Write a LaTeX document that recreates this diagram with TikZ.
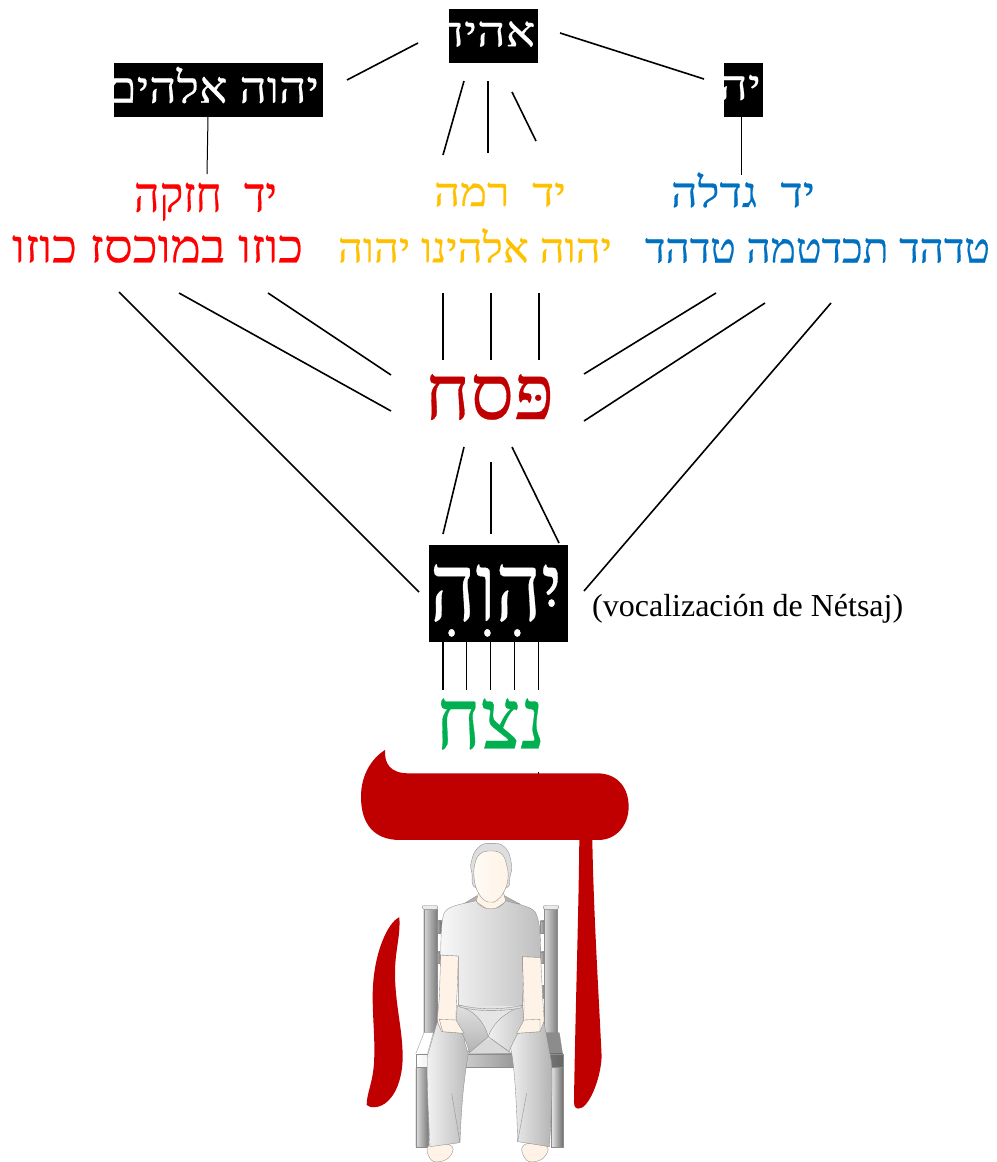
\documentclass[tikz,border=0pt]{standalone}
\usepackage{fontspec}
\usepackage{graphicx}
\setmainfont{Liberation Serif}
\newfontfamily\hebfont[Script=Hebrew,FakeBold=0.4]{Liberation Serif}
\TeXXeTstate=1
\definecolor{crimson}{HTML}{C00000}
\definecolor{hred}{HTML}{FF0000}
\definecolor{hyel}{HTML}{FFC000}
\definecolor{hblu}{HTML}{0070C0}
\definecolor{hgrn}{HTML}{00B050}
\definecolor{skin}{HTML}{FEF3E6}
\definecolor{outl}{HTML}{8C8C8C}
\tikzset{
  conn/.style={line width=1.6pt,black},
  conn2/.style={line width=1pt,black},
  blackbox/.style={fill=black,inner sep=0pt,outer sep=0pt},
  boxtext/.style={white,inner sep=0pt,font=\hebfont\fontsize{40}{40}\selectfont},
  htext/.style={inner sep=0pt,font=\hebfont\fontsize{40}{40}\selectfont},
  manline/.style={draw=outl,line width=0.35pt},
  post/.style={draw=outl,line width=0.3pt,left color=black!25,right color=black!60},
}
\begin{document}
\begin{tikzpicture}[x=1pt,y=-1pt]
\useasboundingbox (0,0) rectangle (996,1162);

% black boxes (text clipped by the box)
\node[blackbox,minimum width=89pt,minimum height=54pt,
  path picture={\node[boxtext] at ([xshift=-8pt,yshift=2pt]path picture bounding box.center) {\resizebox{100pt}{25pt}{\beginR אהיה\endR}};}] (ehyeh) at (493.5,36) {};
\node[blackbox,minimum width=209pt,minimum height=54pt,
  path picture={\node[boxtext] at ([xshift=-5.5pt,yshift=5pt]path picture bounding box.center) {\resizebox{212pt}{36pt}{\beginR יהוה אלהים\endR}};}] (elohim) at (218.5,90) {};
\node[blackbox,minimum width=39pt,minimum height=54pt,
  path picture={\node[boxtext] at ([xshift=-3.5pt,yshift=2.5pt]path picture bounding box.center) {\resizebox{42pt}{25pt}{\beginR יה\endR}};}] (yah) at (743.5,90) {};
\node[blackbox,minimum width=139pt,minimum height=97pt,
  path picture={\node[boxtext] at ([xshift=-2.5pt,yshift=-7pt]path picture bounding box.center) {\resizebox{132pt}{56pt}{\beginR יִהִוִהִ\endR}};}] (tetra) at (498.5,593.5) {};

% coloured texts
\node[htext,hred] (redA) at (205.5,201.8) {\resizebox{143pt}{29pt}{\beginR יד~~חזקה\endR}};
\node[htext,hred] (redB) at (157.5,249) {\resizebox{291pt}{27pt}{\beginR כוזו במוכסז כוזו\endR}};
\node[htext,hyel] (yelA) at (500,194.5) {\resizebox{132pt}{23.5pt}{\beginR יד~~רמה\endR}};
\node[htext,hyel] (yelB) at (475,245.5) {\resizebox{274pt}{34pt}{\beginR יהוה אלהינו יהוה\endR}};
\node[htext,hblu] (bluA) at (743,190) {\resizebox{144pt}{34.5pt}{\beginR יד~~גדלה\endR}};
\node[htext,hblu] (bluB) at (817.5,250.5) {\resizebox{345pt}{24.5pt}{\beginR טדהד תכדטמה טדהד\endR}};
\node[htext,crimson] (pesach) at (489.5,397) {\resizebox{129pt}{45pt}{\beginR פּסח\endR}};
\node[htext,hgrn] (netzach) at (490.5,724) {\resizebox{109pt}{50pt}{\beginR נצח\endR}};
\node[inner sep=0pt,anchor=west,font=\fontsize{32}{32}\selectfont] (voc) at (592,609) {(vocalización de Nétsaj)};

% connectors
\draw[conn] ([shift={(-75.5,7)}]ehyeh.center) -- ([shift={(128.5,-10)}]elohim.center);
\draw[conn] ([shift={(66.5,-3)}]ehyeh.center) -- ([shift={(-39.5,-11)}]yah.center);
\draw[conn] ([shift={(-29.5,45)}]ehyeh.center) -- ([shift={(-57,-39.5)}]yelA.center);
\draw[conn] ([shift={(-5.5,45)}]ehyeh.center) -- ([shift={(-12,-41.5)}]yelA.center);
\draw[conn] ([shift={(18.5,56)}]ehyeh.center) -- ([shift={(36,-53.5)}]yelA.center);
\draw[conn2] ([xshift=-10.5pt]elohim.south) -- ([shift={(1.5,-27.8)}]redA.center);
\draw[conn2] ([xshift=-2.5pt]yah.south) -- ([shift={(-2,-15)}]bluA.center);
\draw[conn] ([shift={(-38.5,43)}]redB.center) -- ([shift={(-79.5,-1.5)}]tetra.center);
\draw[conn] ([shift={(21.5,44)}]redB.center) -- ([shift={(-98.5,14)}]pesach.center);
\draw[conn] ([shift={(110.5,44)}]redB.center) -- ([shift={(-98.5,-22)}]pesach.center);
\draw[conn] ([shift={(-32,47.5)}]yelB.center) -- ([shift={(-46.5,-37)}]pesach.center);
\draw[conn] ([shift={(16,47.5)}]yelB.center) -- ([shift={(1.5,-37)}]pesach.center);
\draw[conn] ([shift={(64,47.5)}]yelB.center) -- ([shift={(49.5,-37)}]pesach.center);
\draw[conn] ([shift={(-101.5,42.5)}]bluB.center) -- ([shift={(94.5,-23)}]pesach.center);
\draw[conn] ([shift={(-52.5,52.5)}]bluB.center) -- ([shift={(94.5,24)}]pesach.center);
\draw[conn] ([shift={(13.5,52.5)}]bluB.center) -- ([shift={(85.5,-2.5)}]tetra.center);
\draw[conn] ([shift={(-25.5,50)}]pesach.center) -- ([shift={(-55.5,-59.5)}]tetra.center);
\draw[conn] ([shift={(1.5,65)}]pesach.center) -- ([shift={(-7.5,-59.5)}]tetra.center);
\draw[conn] ([shift={(22.5,50)}]pesach.center) -- ([shift={(60.5,-50.5)}]tetra.center);
\draw[conn] ([shift={(-55.8,48)}]tetra.center) -- ([shift={(-47.8,-34.5)}]netzach.center);
\draw[conn] ([shift={(-32.2,48)}]tetra.center) -- ([shift={(-24.2,-34.5)}]netzach.center);
\draw[conn] ([shift={(-8.2,48)}]tetra.center) -- ([shift={(-0.2,-34.5)}]netzach.center);
\draw[conn] ([shift={(15.8,48)}]tetra.center) -- ([shift={(23.8,-34.5)}]netzach.center);
\draw[conn] ([shift={(39.8,48)}]tetra.center) -- ([shift={(47.8,-34.5)}]netzach.center);

% giant letter he, drawn as a shape
\coordinate (tick) at (538,772);
\draw[conn2] (tick) -- ++(0,3);
\begin{scope}[shift={(350,530)},x=0.3333pt,y=-0.3333pt]
  \fill[crimson] (105,660) .. controls (103,700) and (120,730) .. (175,730) -- (745,730)
    .. controls (805,732) and (836,775) .. (836,830)
    .. controls (836,885) and (800,930) .. (745,930) -- (727,930)
    .. controls (731,1150) and (745,1370) .. (755,1580)
    .. controls (752,1650) and (715,1738) .. (685,1736)
    .. controls (674,1736) and (672,1725) .. (672,1715)
    .. controls (676,1450) and (686,1150) .. (688,930) -- (150,930)
    .. controls (70,930) and (33,880) .. (33,800)
    .. controls (33,735) and (65,685) .. (105,660) -- cycle;
  \fill[crimson] (148,1162) .. controls (115,1175) and (68,1270) .. (68,1400)
    .. controls (68,1470) and (76,1530) .. (72,1600)
    .. controls (68,1660) and (50,1690) .. (50,1725)
    .. controls (60,1736) and (90,1735) .. (112,1715)
    .. controls (145,1685) and (158,1630) .. (158,1580)
    .. controls (158,1500) and (135,1420) .. (135,1330)
    .. controls (135,1260) and (152,1220) .. (148,1162) -- cycle;
\end{scope}

% seated figure, in 3x coordinates of the crop
\begin{scope}[shift={(350,830)},x=0.3333pt,y=-0.3333pt]
  % chair back
  \foreach \xa/\xb in {258/275,570/588}{
    \path[post] (\xa,272) rectangle (\xb,308);
    \path[post] (\xa,365) rectangle (\xb,400);}
  \path[post] (570,468) rectangle (588,505);
  \path[draw=outl,line width=.3pt,left color=black!15,right color=black!50] (221,236) rectangle (260,610);
  \path[draw=outl,line width=.3pt,left color=black!15,right color=black!50] (583,236) rectangle (622,610);
  \path[draw=outl,line width=.3pt,fill=black!8,rounded corners=2pt] (217,226) rectangle (263,238);
  \path[draw=outl,line width=.3pt,fill=black!8,rounded corners=2pt] (580,226) rectangle (626,238);
  % seat
  \path[draw=outl,line width=.3pt,fill=white] (222,608) -- (250,608) -- (232,672) -- (197,672) -- cycle;
  \path[draw=outl,line width=.3pt,fill=black!45] (583,608) -- (628,608) -- (638,672) -- (590,672) -- cycle;
  \path[draw=outl,line width=.3pt,fill=black!15] (415,620) -- (480,668) -- (500,672) -- (345,672) -- cycle;
  \path[draw=outl,line width=.3pt,left color=white,right color=black!60] (197,672) rectangle (638,712);
  \path[draw=outl,line width=.3pt,left color=black!12,right color=black!50] (197,712) rectangle (233,952);
  \path[draw=outl,line width=.3pt,left color=black!8,right color=black!55] (603,712) rectangle (638,952);
  % head
  \path[manline,fill=black!13] plot[smooth cycle,tension=.8] coordinates {(423,40) (465,52) (484,100) (480,140) (465,175) (380,175) (366,130) (364,95) (385,52)};
  \path[manline,fill=black!30] (340,222) -- (381,197) -- (388,212) -- cycle;
  \path[manline,fill=black!30] (510,222) -- (463,197) -- (456,212) -- cycle;
  \path[manline,fill=skin] (388,180) -- (458,180) -- (468,215) -- (423,245) -- (378,215) -- cycle;
  \path[manline,left color=white!60!skin,right color=skin] plot[smooth cycle,tension=.75] coordinates {(423,63) (455,72) (470,105) (474,145) (462,185) (440,212) (423,216) (405,212) (385,188) (373,150) (374,105) (390,72)};
  % feet
  \path[manline,fill=skin] plot[smooth cycle,tension=.8] coordinates {(238,945) (300,945) (303,975) (270,995) (240,985)};
  \path[manline,fill=skin] plot[smooth cycle,tension=.8] coordinates {(522,945) (585,945) (588,975) (555,995) (525,985)};
  % arms
  \path[manline,fill=skin] plot[smooth,tension=.4] coordinates {(272,375) (268,500) (262,575) (275,605) (342,610) (328,600) (318,570) (322,470) (325,378)} -- cycle;
  \path[manline,fill=skin] plot[smooth,tension=.4] coordinates {(572,382) (578,500) (582,575) (570,605) (500,610) (515,590) (522,530) (517,380)} -- cycle;
  % shirt
  \path[manline,left color=black!3,right color=black!25]
    (378,212) .. controls (340,222) and (300,225) .. (285,245) .. controls (275,260) and (273,300) .. (272,375)
    -- (325,378) -- (325,525) .. controls (390,540) and (450,540) .. (518,526) -- (517,380) -- (572,382)
    .. controls (572,320) and (570,270) .. (555,245) .. controls (540,228) and (500,222) .. (467,212)
    .. controls (450,245) and (395,245) .. (378,212) -- cycle;
  % trousers
  \path[fill=black!10] (320,528) -- (520,528) -- (520,590) -- (415,630) -- (320,590) -- cycle;
  \path[manline,left color=black!5,right color=black!27] (262,575) -- (275,605) -- (342,610) -- (345,640) -- (355,672) .. controls (345,730) and (335,800) .. (330,938) -- (240,950) .. controls (235,850) and (230,760) .. (232,680) -- cycle;
  \path[manline,left color=black!6,right color=black!30] (582,575) -- (570,605) -- (500,610) -- (480,650) .. controls (490,670) and (500,800) .. (503,935) -- (598,950) .. controls (605,850) and (608,760) .. (605,700) -- cycle;
  \path[manline,top color=black!12,bottom color=black!30] (322,527) .. controls (370,540) and (400,570) .. (415,620) -- (358,668) .. controls (350,635) and (335,605) .. (318,575) -- cycle;
  \path[manline,left color=black!6,right color=black!22] (518,527) .. controls (470,545) and (430,575) .. (415,620) -- (478,665) .. controls (485,640) and (505,610) .. (522,575) -- cycle;
  \path[manline,fill=black!12] (325,525) .. controls (390,540) and (450,540) .. (518,526) -- (512,534) .. controls (450,545) and (390,545) .. (332,532) -- cycle;
  \path[manline] (305,790) -- (330,938);
  \path[manline] (530,790) -- (503,935);
  % hands
  \path[manline,fill=skin] (268,568) -- (318,570) -- (342,610) -- (278,605) -- cycle;
  \path[manline,fill=skin] (570,568) -- (522,570) -- (500,610) -- (570,605) -- cycle;
\end{scope}
\end{tikzpicture}
\end{document}
